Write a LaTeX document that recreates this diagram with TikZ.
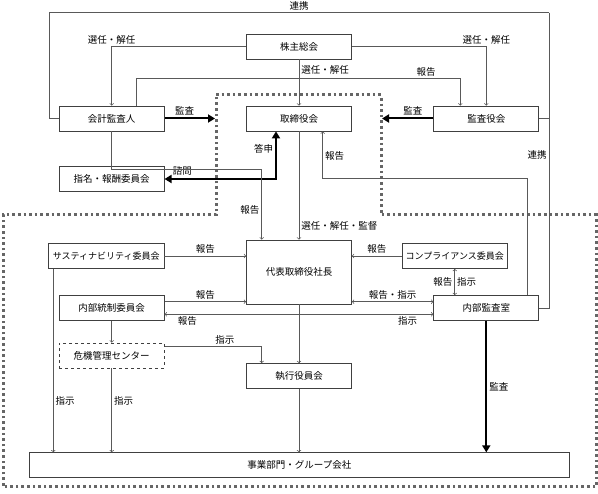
\documentclass[tikz,border=0pt]{standalone}
\usepackage{fontspec}
\setmainfont{Noto Sans CJK JP}
\usetikzlibrary{arrows,arrows.meta}

\begin{document}
\begin{tikzpicture}[x=1pt,y=-1pt,>=to,
    box/.style={draw=black!75,line width=0.7pt,minimum width=105pt,minimum height=25pt,inner sep=1pt,font=\fontsize{9.5}{11}\selectfont},
    ln/.style={draw=black!65,line width=0.7pt},
    thk/.style={draw=black,line width=2pt},
    lbl/.style={font=\fontsize{9.5}{11}\selectfont,inner sep=2pt},
    zone/.style={draw=black!60,line width=3pt,dash pattern=on 2.6pt off 3pt}]
    \useasboundingbox (0,0) rectangle (598,494);

    \coordinate (z1) at (216,95);
    \coordinate (z2) at (381,95);
    \coordinate (z3) at (381,215);
    \coordinate (z4) at (596,215);
    \coordinate (z5) at (596,487);
    \coordinate (z6) at (3,487);
    \coordinate (z7) at (3,215);
    \coordinate (z8) at (216,215);
    \draw[zone] (z1) -- (z2) -- (z3) -- (z4) -- (z5) -- (z6) -- (z7) -- (z8) -- cycle;

    \node[box] (kabu) at (299,46.5) {株主総会};
    \node[box] (kaikei) at (111.7,118.5) {会計監査人};
    \node[box] (tori) at (299,118.5) {取締役会};
    \node[box] (kansayaku) at (486.3,118.5) {監査役会};
    \node[box] (shimei) at (111.7,179) {指名・報酬委員会};
    \node[box,minimum width=115.7pt,font=\fontsize{9}{11}\selectfont] (sus) at (106.2,256) {サスティナビリティ委員会};
    \node[box] (naibu) at (111.7,308.3) {内部統制委員会};
    \node[box,dashed] (kiki) at (111.7,355.5) {危機管理センター};
    \node[box,minimum height=64pt] (shacho) at (299,272) {代表取締役社長};
    \node[box,font=\fontsize{9}{11}\selectfont] (comp) at (454.8,256) {コンプライアンス委員会};
    \node[box] (kansashitsu) at (486.3,308) {内部監査室};
    \node[box] (shikko) at (299,376) {執行役員会};
    \node[box,minimum width=540.7pt] (jigyo) at (299.3,465.2) {事業部門・グループ会社};

    \coordinate (ltop) at (49,12.7);
    \coordinate (rtop) at (549,12.7);
    \draw[ln] (kaikei.west) -| (ltop) -- (rtop) node[lbl,midway,above] {連携};
    \draw[ln] (rtop) |- (kansashitsu.east) node[lbl,pos=0.24,left] {連携};
    \draw[ln] (kansayaku.east) -- (kansayaku.east -| rtop);

    \draw[ln,->] (kabu.west) -| (kaikei.north) node[lbl,pos=0.5,above] {選任・解任};
    \draw[ln,->] (kabu.east) -| (kansayaku.north) node[lbl,pos=0.5,above] {選任・解任};
    \draw[ln,->] (kabu.south) -- (tori.north) node[lbl,pos=0.22,right] {選任・解任};
    \draw[ln,->] ([xshift=25pt]kaikei.north) -- ++(0,-27) -| ([xshift=-26pt]kansayaku.north) node[lbl,pos=0.447,above] {報告};

    \draw[thk,-{Triangle[length=7pt,width=8pt]}] (kaikei.east) -- ([xshift=-1pt]kaikei.east -| z1) node[lbl,pos=0.4,above] {監査};
    \draw[thk,-{Triangle[length=7pt,width=8pt]}] (kansayaku.west) -- ([xshift=1pt]kansayaku.west -| z2) node[lbl,pos=0.4,above] {監査};
    \draw[thk,{Triangle[length=7pt,width=8pt]}-{Triangle[length=7pt,width=8pt]}] (shimei.east) -| ([xshift=-23pt]tori.south) node[lbl,pos=0.08,above=1pt] {諮問} node[lbl,pos=0.82,left] {答申};

    \draw[ln,->] (kaikei.south) -- ++(0,38.2) -| ([xshift=-37.3pt]shacho.north) node[lbl,pos=0.79,left] {報告};
    \draw[ln,->] (tori.south) -- (shacho.north) node[lbl,pos=0.87,right] {選任・解任・監督};
    \draw[ln,->] ([xshift=41pt]kansashitsu.north) -- ++(0,-117) -| ([xshift=23.7pt]tori.south) node[lbl,pos=0.74,right] {報告};

    \draw[ln,->] (sus.east) -- (sus.east -| shacho.west) node[lbl,midway,above] {報告};
    \draw[ln,->] (comp.west) -- (comp.west -| shacho.east) node[lbl,midway,above] {報告};
    \draw[ln,->] ([yshift=6.6pt]naibu.east) -- ([yshift=6.6pt]naibu.east -| shacho.west) node[lbl,midway,above] {報告};
    \draw[ln,<->] ([yshift=6.3pt]kansashitsu.west -| shacho.east) -- ([yshift=6.3pt]kansashitsu.west) node[lbl,midway,above] {報告・指示};
    \draw[ln,<->] ([yshift=-6pt]naibu.east) -- ([yshift=-6pt]naibu.east -| kansashitsu.west) node[lbl,pos=0.085,below] {報告} node[lbl,pos=0.904,below] {指示};
    \draw[ln,<->] (comp.south) -- (comp.south |- kansashitsu.north) node[lbl,midway,left] {報告} node[lbl,midway,right] {指示};

    \draw[ln,->] (shacho.south) -- (shikko.north);
    \draw[ln,->] (naibu.south) -- (kiki.north);
    \draw[ln,->] ([yshift=9.2pt]kiki.east) -| ([xshift=-37.3pt]shikko.north) node[lbl,pos=0.31,above] {指示};
    \draw[ln,->] ([xshift=-52.9pt]sus.south) -- ([xshift=-52.9pt]sus.south |- jigyo.north) node[lbl,pos=0.72,right] {指示};
    \draw[ln,->] (kiki.south) -- (kiki.south |- jigyo.north) node[lbl,pos=0.39,right] {指示};
    \draw[ln,->] (shikko.south) -- (shikko.south |- jigyo.north);
    \draw[thk,-{Triangle[length=7pt,width=8pt]}] (kansashitsu.south) -- (kansashitsu.south |- jigyo.north) node[lbl,midway,right] {監査};
\end{tikzpicture}
\end{document}
